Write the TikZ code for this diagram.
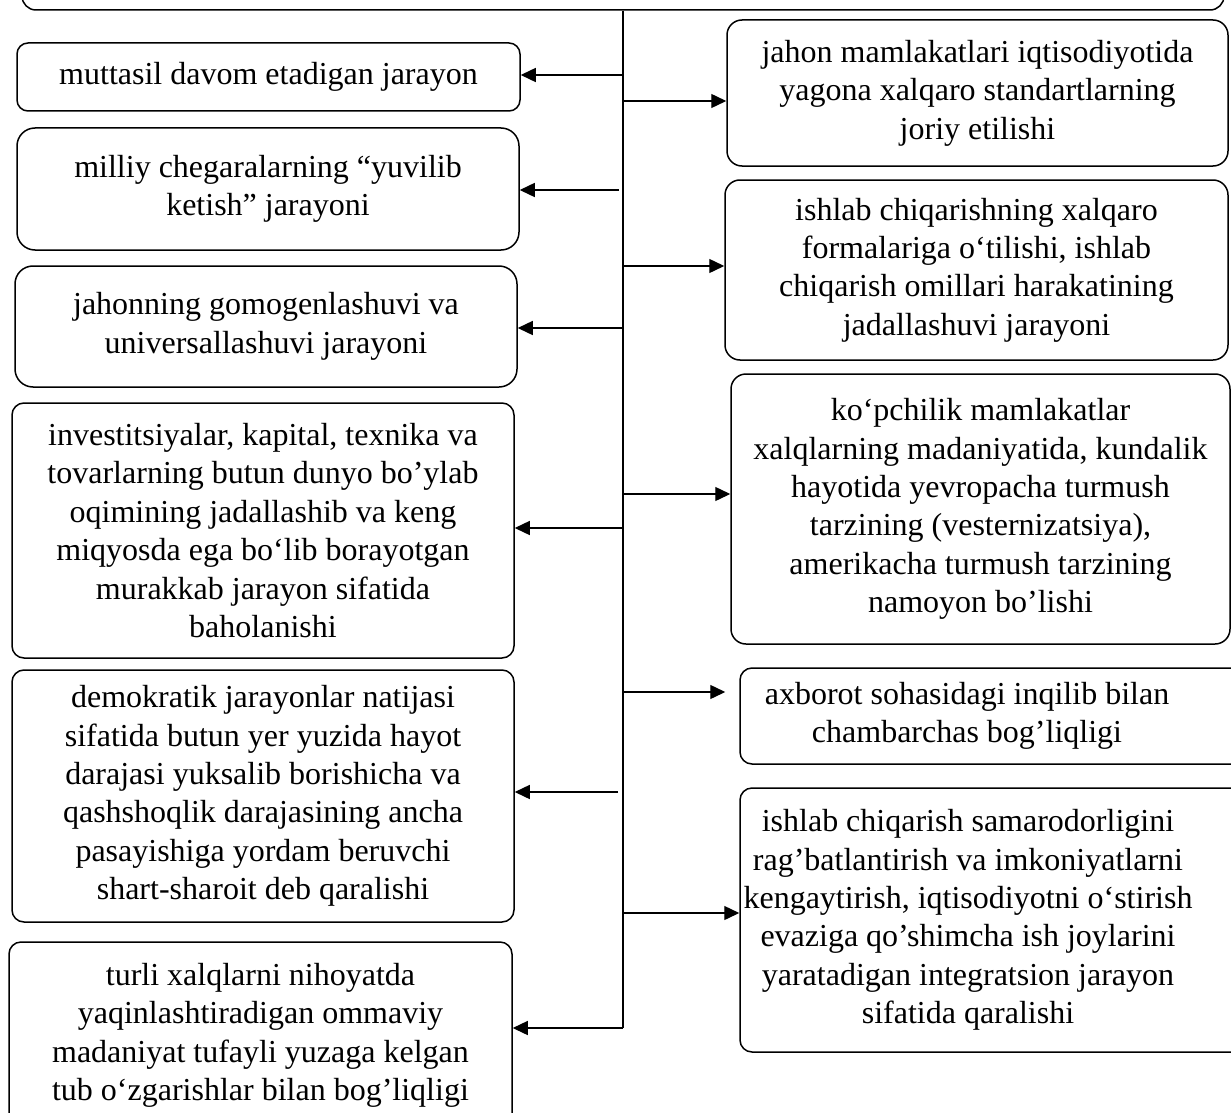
\documentclass[tikz,border=0pt]{standalone}
\usepackage{fontspec}
\setmainfont{Liberation Serif}
\usetikzlibrary{arrows.meta}
\begin{document}
\begin{tikzpicture}[x=1pt,y=-1pt,
  box/.style={draw, line width=1.5pt, rounded corners=12pt, inner sep=0pt, align=center,
    font=\fontsize{32}{38.4}\selectfont},
  txt/.style={align=center, inner sep=0pt, font=\fontsize{32}{38.4}\selectfont},
  conn/.style={line width=1.4pt},
  arr/.style={line width=1.4pt, -{Triangle[length=15pt,width=14pt]}}]
\useasboundingbox (0,0) rectangle (1231,1113);
\clip (0,0) rectangle (1231,1113);
% top box (cut off)
\node[box, minimum width=1202pt, minimum height=160pt, rounded corners=14pt] (top) at (623,-70) {};
% left boxes
\node[box, minimum width=503pt, minimum height=68pt, rounded corners=11pt] (l1) at (268.5,77) {muttasil davom etadigan jarayon};
\node[box, minimum width=502pt, minimum height=122pt, rounded corners=18pt] (l2) at (268,189) {milliy chegaralarning “yuvilib\\ketish” jarayoni};
\node[box, minimum width=502pt, minimum height=121pt, rounded corners=18pt] (l3) at (266,326.5) {jahonning gomogenlashuvi va\\universallashuvi jarayoni};
\node[box, minimum width=502pt, minimum height=255pt] (l4) at (263,530.5) {investitsiyalar, kapital, texnika va\\tovarlarning butun dunyo bo’ylab\\oqimining jadallashib va keng\\miqyosda ega boʻlib borayotgan\\murakkab jarayon sifatida\\baholanishi};
\node[box, minimum width=502pt, minimum height=252pt] (l5) at (263,796) {demokratik jarayonlar natijasi\\sifatida butun yer yuzida hayot\\darajasi yuksalib borishicha va\\qashshoqlik darajasining ancha\\pasayishiga yordam beruvchi\\shart-sharoit deb qaralishi};
\node[box, minimum width=503pt, minimum height=238pt] (l6) at (260.5,1061) {};
\node[txt, anchor=north] (l6t) at (260.5,963) {turli xalqlarni nihoyatda\\yaqinlashtiradigan ommaviy\\madaniyat tufayli yuzaga kelgan\\tub oʻzgarishlar bilan bog’liqligi};
% right boxes
\node[box, minimum width=501pt, minimum height=146pt, rounded corners=15pt] (r1) at (977.5,93) {jahon mamlakatlari iqtisodiyotida\\yagona xalqaro standartlarning\\joriy etilishi};
\node[box, minimum width=503pt, minimum height=180pt, rounded corners=15pt] (r2) at (976.5,270) {ishlab chiqarishning xalqaro\\formalariga oʻtilishi, ishlab\\chiqarish omillari harakatining\\jadallashuvi jarayoni};
\node[box, minimum width=499pt, minimum height=270pt, rounded corners=15pt] (r3) at (980.5,509) {koʻpchilik mamlakatlar\\xalqlarning madaniyatida, kundalik\\hayotida yevropacha turmush\\tarzining (vesternizatsiya),\\amerikacha turmush tarzining\\namoyon bo’lishi};
\node[box, minimum width=520pt, minimum height=96pt] (r4) at (1000,716) {};
\node[txt] (r4t) at (967,716) {axborot sohasidagi inqilib bilan\\chambarchas bog’liqligi};
\node[box, minimum width=520pt, minimum height=264pt] (r5) at (1000,920) {};
\node[txt] (r5t) at (968,920) {ishlab chiqarish samarodorligini\\rag’batlantirish va imkoniyatlarni\\kengaytirish, iqtisodiyotni oʻstirish\\evaziga qo’shimcha ish joylarini\\yaratadigan integratsion jarayon\\sifatida qaralishi};
% trunk
\coordinate (tend) at (623,1028);
\draw[conn] (top.south) -- (tend);
% left connectors
\coordinate (al1) at (623,75);
\coordinate (al2) at (619,190);
\coordinate (al3) at (623,328);
\coordinate (al4) at (623,528);
\coordinate (al5) at (618,792);
\draw[arr] (al1) -- (al1 -| l1.east);
\draw[arr] (al2) -- (al2 -| l2.east);
\draw[arr] (al3) -- (al3 -| l3.east);
\draw[arr] (al4) -- (al4 -| l4.east);
\draw[arr] (al5) -- (al5 -| l5.east);
\draw[arr] (tend) -- (tend -| l6.east);
% right connectors
\coordinate (ar1) at (623,101);
\coordinate (ar2) at (623,266);
\coordinate (ar3) at (623,494);
\coordinate (ar4) at (623,692);
\coordinate (ar5) at (623,913);
\draw[arr] (ar1) -- (ar1 -| r1.west);
\draw[arr] (ar2) -- (ar2 -| r2.west);
\draw[arr] (ar3) -- (ar3 -| r3.west);
\draw[arr, shorten >=14pt] (ar4) -- (ar4 -| r4.west);
\draw[arr] (ar5) -- (ar5 -| r5.west);
\end{tikzpicture}
\end{document}
